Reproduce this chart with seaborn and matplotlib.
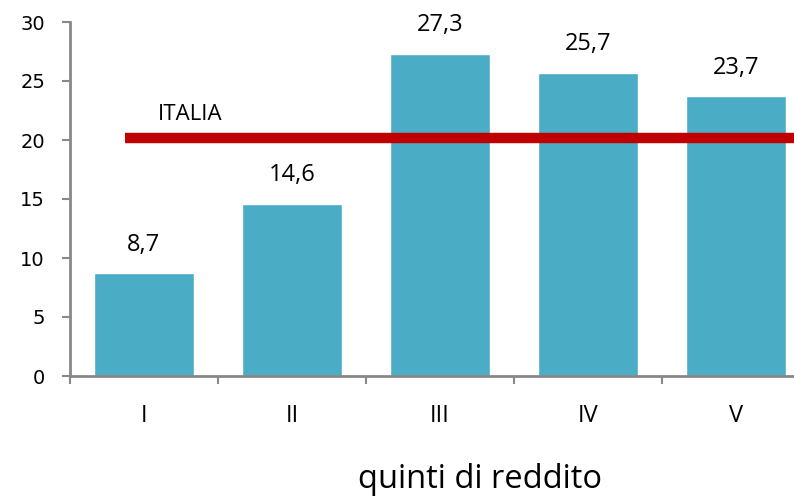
import numpy as np
import pandas as pd
import matplotlib
matplotlib.use("Agg")
import matplotlib.pyplot as plt
import seaborn as sns

# dati
quintili = ["I", "II", "III", "IV", "V"]
valori = [8.7, 14.6, 27.3, 25.7, 23.7]
media_italia = 20.2
etichetta_media = "ITALIA"
titolo_x = "quinti di reddito"

df = pd.DataFrame({"quintile": quintili, "valore": valori})

sns.set_style("white")
plt.rcParams["font.family"] = ["Open Sans", "DejaVu Sans"]
plt.rcParams["text.color"] = "black"
plt.rcParams["xtick.color"] = "black"
plt.rcParams["ytick.color"] = "black"

fig = plt.figure(figsize=(7.94, 5.03), dpi=100)
ax = fig.add_axes([70 / 794, 1 - 376 / 503, 740 / 794, (376 - 22) / 503])

sns.barplot(data=df, x="quintile", y="valore", color="#4BACC6",
            saturation=1, width=0.68, ax=ax)

# linea media nazionale
ax.plot([-0.13, 4.6], [media_italia, media_italia], color="#C00000",
        lw=7.5, solid_capstyle="butt", zorder=3)
ax.text(0.31, media_italia + 1.1, etichetta_media, fontsize=16,
        ha="center", va="bottom")

for i, v in enumerate(valori):
    ax.text(i, v + 1.4, f"{v:.1f}".replace(".", ","), ha="center",
            va="bottom", fontsize=17)

ax.set_xlim(-0.5, 4.5)
ax.set_ylim(0, 30)
ax.set_yticks(range(0, 31, 5))
ax.set_yticklabels([str(t) for t in range(0, 31, 5)],
                   family="DejaVu Sans", fontsize=14)

# tick x ai confini delle categorie
ax.set_xticks(np.arange(-0.5, 4.6, 1.0))
ax.set_xticklabels([])
ax.set_xticks(range(len(quintili)), minor=True)
ax.set_xticklabels(quintili, minor=True, fontsize=17)
ax.tick_params(axis="x", which="minor", bottom=True, length=0, pad=20)
ax.tick_params(axis="x", which="major", bottom=True, length=6, width=1.5,
               color="#888888", direction="out")
ax.tick_params(axis="y", left=True, length=6, width=1.5, color="#888888",
               labelcolor="black", direction="out", pad=12)

for s in ["top", "right"]:
    ax.spines[s].set_visible(False)
for s in ["left", "bottom"]:
    ax.spines[s].set_color("#888888")
    ax.spines[s].set_linewidth(2)

ax.set_ylabel("")
ax.set_xlabel(titolo_x, fontsize=23.5, color="black")
ax.xaxis.set_label_coords((480 - 70) / 740, -0.245)

fig.savefig("out.png", dpi=100)
